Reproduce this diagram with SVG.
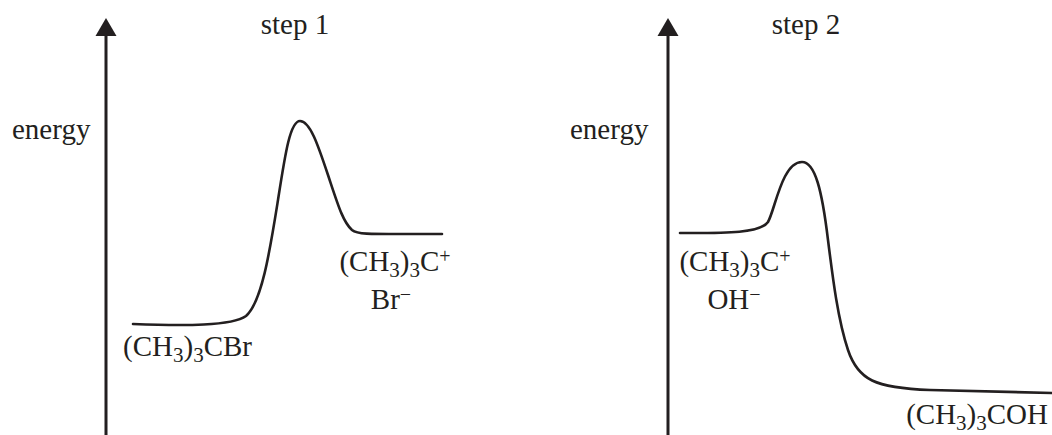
<svg xmlns="http://www.w3.org/2000/svg" width="1052" height="435" viewBox="0 0 1052 435">
<style>
text{font-family:"Liberation Serif","Times New Roman",serif;font-size:29px;fill:#231f20}
.sub{font-size:21px}
.sup{font-size:20px}
.ax{stroke:#231f20;stroke-width:3;fill:none}
.cv{stroke:#231f20;stroke-width:2.6;fill:none;stroke-linecap:round;stroke-linejoin:round}
.hd{fill:#231f20}
</style>
<rect width="1052" height="435" fill="#fff"/>
<g id="axis1">
<line class="ax" x1="106" y1="435" x2="106" y2="32"/>
<polygon class="hd" points="106,18 95.5,36 116.5,36"/>
</g>
<g id="axis2">
<line class="ax" x1="668" y1="435" x2="668" y2="32"/>
<polygon class="hd" points="668,18 657.5,36 678.5,36"/>
</g>
<g id="connectors">
<path id="curve1" class="cv" d="M133,324 C185,326 232,326 246,316 C262,302 270,250 278,200 C285,155 290,121 300,121 C310,121 318,145 328,175 C338,205 343,222 352,230 C358,235 370,234 442,234"/>
<path id="curve2" class="cv" d="M680,233 C720,233 760,234 768,222 C775,210 782,162 802,162 C815,162 822,190 828,240 C833,280 838,320 848,350 C858,380 875,388 930,390 L1052,393"/>
</g>
<g id="step1-title"><text x="295" y="34" text-anchor="middle">step 1</text></g>
<g id="step2-title"><text x="806" y="34" text-anchor="middle">step 2</text></g>
<g id="energy1"><text x="12" y="139">energy</text></g>
<g id="energy2"><text x="570" y="139">energy</text></g>
<g id="reactant1"><text x="123" y="356">(CH<tspan class="sub" dy="6">3</tspan><tspan dy="-6">)</tspan><tspan class="sub" dy="6">3</tspan><tspan dy="-6">CBr</tspan></text></g>
<g id="product1"><text x="395" y="271" text-anchor="middle">(CH<tspan class="sub" dy="6">3</tspan><tspan dy="-6">)</tspan><tspan class="sub" dy="6">3</tspan><tspan dy="-6">C</tspan><tspan class="sup" dy="-8">+</tspan></text>
<text x="391" y="309" text-anchor="middle">Br<tspan class="sup" dy="-8">−</tspan></text></g>
<g id="reactant2"><text x="735" y="271" text-anchor="middle">(CH<tspan class="sub" dy="6">3</tspan><tspan dy="-6">)</tspan><tspan class="sub" dy="6">3</tspan><tspan dy="-6">C</tspan><tspan class="sup" dy="-8">+</tspan></text>
<text x="734" y="309" text-anchor="middle">OH<tspan class="sup" dy="-8">−</tspan></text></g>
<g id="product2"><text x="1048" y="424" text-anchor="end">(CH<tspan class="sub" dy="6">3</tspan><tspan dy="-6">)</tspan><tspan class="sub" dy="6">3</tspan><tspan dy="-6">COH</tspan></text></g>
</svg>
